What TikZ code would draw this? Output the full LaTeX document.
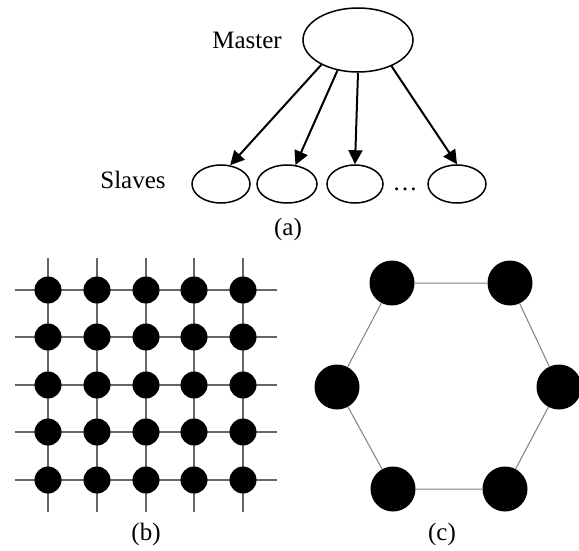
\documentclass[tikz,border=0pt]{standalone}
\usepackage{fontspec}
\setmainfont{Liberation Serif}
\usetikzlibrary{shapes.geometric,arrows.meta}
\tikzset{
  ell/.style={draw=black, line width=1.5pt, ellipse, inner sep=0pt},
  arr/.style={line width=2pt, -{Triangle[length=14pt,width=14pt]}},
  lbl/.style={font=\fontsize{25}{28}\selectfont, inner sep=0pt, anchor=base},
  gdot/.style={circle, fill=black, inner sep=0pt, minimum size=27pt},
  hdot/.style={circle, fill=black, inner sep=0pt, minimum size=45pt},
  gline/.style={draw=black!60, line width=1.5pt},
  hline/.style={draw=black!50, line width=1pt}
}
\begin{document}
\begin{tikzpicture}[x=1pt,y=-1pt]
\useasboundingbox (0,0) rectangle (579,551);
% (a)
\node[ell, minimum width=110pt, minimum height=64pt] (M) at (358,40) {};
\node[lbl] (mt) at (247,49) {Master};
\node[ell, minimum width=58pt, minimum height=38pt] (S1) at (221,184) {};
\node[ell, minimum width=60pt, minimum height=38pt] (S2) at (287,184) {};
\node[ell, minimum width=56pt, minimum height=38pt] (S3) at (355,184) {};
\node[ell, minimum width=58pt, minimum height=38pt] (S4) at (457,184) {};
\node[lbl] (st) at (133,188) {Slaves};
\node[lbl] (dd) at (405,190) {\ldots};
\node[lbl] (la) at (288,235) {(a)};
\draw[arr] (M.214) -- (S1.64);
\draw[arr] (M.236) -- (S2.66);
\draw[arr] (M.270) -- (S3.90);
\draw[arr] (M.322) -- (S4.90);
% (b)
\foreach \r/\y in {1/290,2/337,3/385,4/432,5/480}{
  \coordinate (hw\r) at (15,\y);
  \coordinate (he\r) at (277,\y);
  \draw[gline] (hw\r) -- (he\r);
}
\foreach \c/\x in {1/48,2/97,3/146,4/194,5/243}{
  \coordinate (vn\c) at (\x,258);
  \coordinate (vs\c) at (\x,512);
  \draw[gline] (vn\c) -- (vs\c);
}
\foreach \r/\y in {1/290,2/337,3/385,4/432,5/480}{
  \foreach \c/\x in {1/48,2/97,3/146,4/194,5/243}{
    \node[gdot] (g\r\c) at (\x,\y) {};
  }
}
\node[lbl] (lb) at (146,540) {(b)};
% (c)
\node[hdot] (h1) at (392,283) {};
\node[hdot] (h2) at (510,283) {};
\node[hdot] (h3) at (559,387) {};
\node[hdot] (h4) at (505,489) {};
\node[hdot] (h5) at (393,489) {};
\node[hdot] (h6) at (337,387) {};
\draw[hline] (h1) -- (h2) -- (h3) -- (h4) -- (h5) -- (h6) -- (h1);
\node[lbl] (lc) at (442,540) {(c)};
\end{tikzpicture}
\end{document}
